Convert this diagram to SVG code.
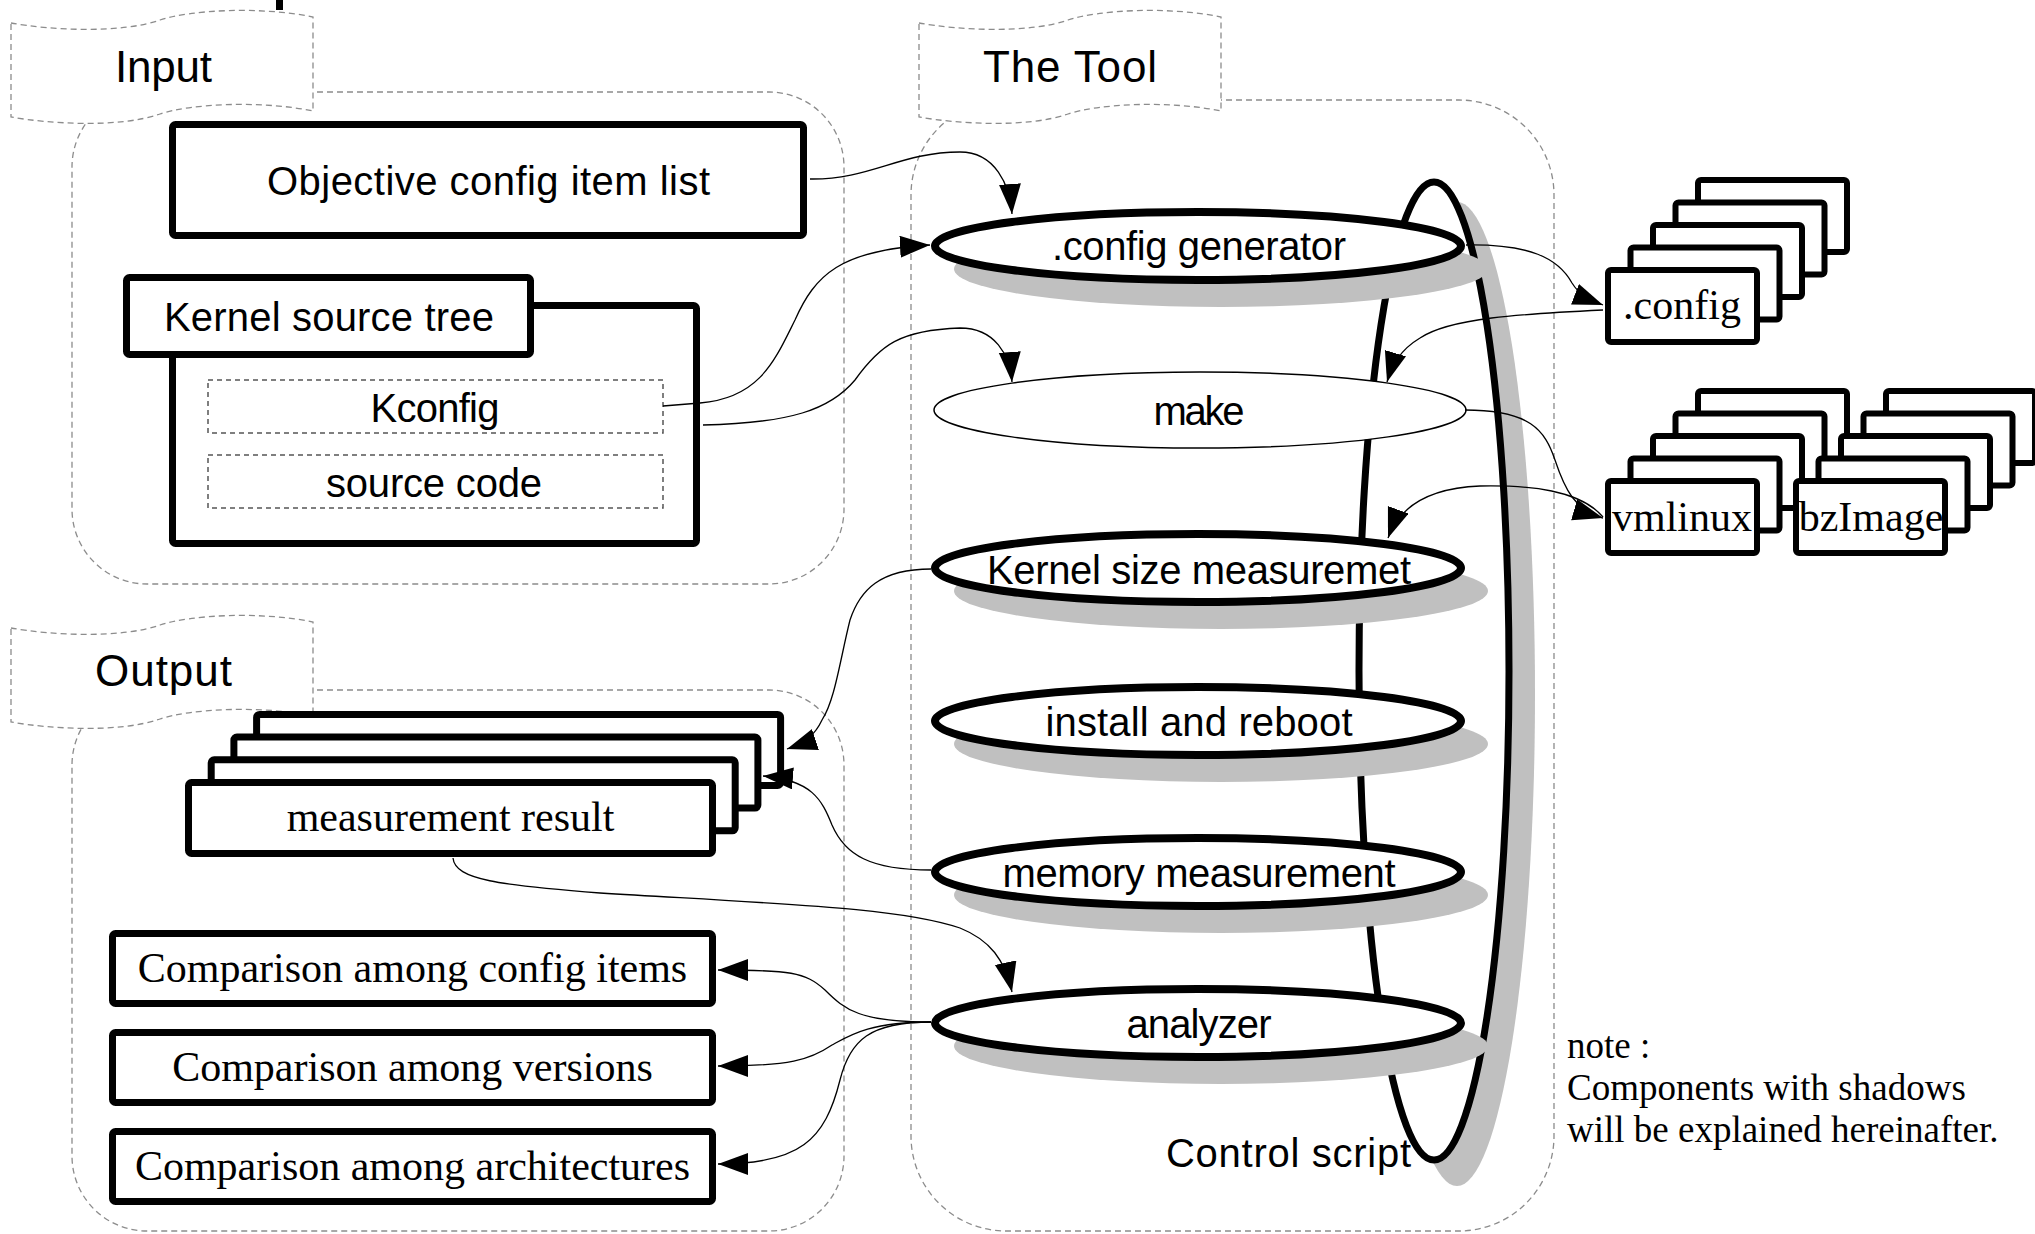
<svg xmlns="http://www.w3.org/2000/svg" width="2035" height="1234" viewBox="0 0 2035 1234">
<defs>
<style>
.cont{fill:none;stroke:#8c8c8c;stroke-width:1.3;stroke-dasharray:6 4}
.tab{fill:#fff;stroke:#8c8c8c;stroke-width:1.3;stroke-dasharray:6 4}
.box{fill:#fff;stroke:#000;stroke-width:7;stroke-linejoin:round}
.sbox{fill:#fff;stroke:#000;stroke-width:6;stroke-linejoin:round}
.dbox{fill:#fff;stroke:#555;stroke-width:1.5;stroke-dasharray:5 4}
.ell{fill:#fff;stroke:#000;stroke-width:8}
.thin{fill:#fff;stroke:#000;stroke-width:1.5}
.shadow{fill:#c0c0c0}
.sans{font-family:"Liberation Sans",Arial,sans-serif;font-size:40px;fill:#000}
.title{font-family:"Liberation Sans",Arial,sans-serif;font-size:44px;fill:#000}
.serif{font-family:"Liberation Serif","Times New Roman",serif;font-size:42px;fill:#000}
.note{font-family:"Liberation Serif","Times New Roman",serif;font-size:37px;fill:#000}
.conn{fill:none;stroke:#000;stroke-width:1.3;marker-end:url(#ah)}
</style>
<marker id="ah" markerUnits="userSpaceOnUse" viewBox="0 0 32 24" markerWidth="32" markerHeight="24" refX="30" refY="11" orient="auto">
<path d="M0,0 L30,11 L0,22 z" fill="#000"/>
</marker>
<path id="tabshape" d="M11,23 C50,30 120,34 160,20 C190,10 260,6 313,17 L313,111 C260,100 190,104 160,114 C120,128 50,124 11,117 Z"/>
</defs>
<rect width="2035" height="1234" fill="#fff"/>
<rect x="276" y="0" width="7" height="10" fill="#000"/>

<g id="containers">
<rect class="cont" x="72" y="92" width="772" height="492" rx="75" ry="75"/>
<rect class="cont" x="911" y="100" width="643" height="1131" rx="95" ry="95"/>
<rect class="cont" x="72" y="690" width="772" height="541" rx="75" ry="75"/>
</g>

<g id="tab-input">
<use href="#tabshape" class="tab"/>
<text class="title" x="163.5" y="82" text-anchor="middle" textLength="97">Input</text>
</g>
<g id="tab-tool">
<use href="#tabshape" class="tab" transform="translate(908,0)"/>
<text class="title" x="1070" y="82" text-anchor="middle" textLength="174">The Tool</text>
</g>
<g id="tab-output">
<use href="#tabshape" class="tab" transform="translate(0,605)"/>
<text class="title" x="163.5" y="686" text-anchor="middle" textLength="137">Output</text>
</g>

<g id="objective">
<rect class="box" x="172.5" y="124.5" width="631" height="111" rx="3"/>
<text class="sans" x="488.5" y="195" text-anchor="middle" textLength="443">Objective config item list</text>
</g>

<g id="kernel-source-tree">
<rect class="box" x="172.5" y="305.5" width="524" height="238" rx="3"/>
<rect class="box" x="126.5" y="277.5" width="404" height="77" rx="3"/>
<text class="sans" x="329" y="331" text-anchor="middle" textLength="330">Kernel source tree</text>
</g>
<g id="kconfig">
<rect class="dbox" x="208" y="380" width="455" height="53"/>
<text class="sans" x="435" y="422" text-anchor="middle" textLength="129">Kconfig</text>
</g>
<g id="source-code">
<rect class="dbox" x="208" y="455" width="455" height="53"/>
<text class="sans" x="434" y="497" text-anchor="middle" textLength="216">source code</text>
</g>

<g id="measurement-result">
<rect class="box" x="256.6" y="714.4" width="524" height="71" rx="3"/>
<rect class="box" x="233.9" y="737.1" width="524" height="71" rx="3"/>
<rect class="box" x="211.2" y="759.8" width="524" height="71" rx="3"/>
<rect class="box" x="188.5" y="782.5" width="524" height="71" rx="3"/>
<text class="serif" x="450.5" y="831" text-anchor="middle">measurement result</text>
</g>

<g id="cmp-config">
<rect class="box" x="112.5" y="933.5" width="600" height="70" rx="3"/>
<text class="serif" x="412.5" y="982" text-anchor="middle">Comparison among config items</text>
</g>
<g id="cmp-versions">
<rect class="box" x="112.5" y="1032.5" width="600" height="70" rx="3"/>
<text class="serif" x="412.5" y="1081" text-anchor="middle">Comparison among versions</text>
</g>
<g id="cmp-arch">
<rect class="box" x="112.5" y="1131.5" width="600" height="70" rx="3"/>
<text class="serif" x="412.5" y="1180" text-anchor="middle">Comparison among architectures</text>
</g>

<g id="control-script">
<ellipse class="shadow" cx="1457" cy="694" rx="78" ry="492"/>
<ellipse cx="1434" cy="671" rx="75" ry="489" fill="#fff" stroke="#000" stroke-width="7"/>
<text class="sans" x="1166" y="1167" textLength="245">Control script</text>
</g>

<g id="config-generator">
<ellipse class="shadow" cx="1221" cy="269" rx="267" ry="38"/>
<ellipse class="ell" cx="1198" cy="246" rx="263" ry="34"/>
<text class="sans" x="1199" y="260" text-anchor="middle" textLength="294">.config generator</text>
</g>
<g id="make">
<ellipse class="thin" cx="1200" cy="410" rx="266" ry="38"/>
<text class="sans" x="1199" y="425" text-anchor="middle" textLength="91">make</text>
</g>
<g id="kernel-size">
<ellipse class="shadow" cx="1221" cy="591" rx="267" ry="38"/>
<ellipse class="ell" cx="1198" cy="568" rx="263" ry="34"/>
<text class="sans" x="1199" y="584" text-anchor="middle" textLength="424">Kernel size measuremet</text>
</g>
<g id="install-reboot">
<ellipse class="shadow" cx="1221" cy="744" rx="267" ry="38"/>
<ellipse class="ell" cx="1198" cy="721" rx="263" ry="34"/>
<text class="sans" x="1199" y="736" text-anchor="middle" textLength="307">install and reboot</text>
</g>
<g id="memory-measurement">
<ellipse class="shadow" cx="1221" cy="895" rx="267" ry="38"/>
<ellipse class="ell" cx="1198" cy="872" rx="263" ry="34"/>
<text class="sans" x="1199" y="887" text-anchor="middle" textLength="393">memory measurement</text>
</g>
<g id="analyzer">
<ellipse class="shadow" cx="1221" cy="1046" rx="267" ry="38"/>
<ellipse class="ell" cx="1198" cy="1023" rx="263" ry="34"/>
<text class="sans" x="1199" y="1038" text-anchor="middle" textLength="145">analyzer</text>
</g>

<g id="config-files">
<rect class="sbox" x="1698" y="180" width="149" height="72" rx="3"/>
<rect class="sbox" x="1675.5" y="202.5" width="149" height="72" rx="3"/>
<rect class="sbox" x="1653" y="225" width="149" height="72" rx="3"/>
<rect class="sbox" x="1630.5" y="247.5" width="149" height="72" rx="3"/>
<rect class="sbox" x="1608" y="270" width="149" height="72" rx="3"/>
<text class="serif" x="1682" y="319" text-anchor="middle">.config</text>
</g>
<g id="vmlinux">
<rect class="sbox" x="1698" y="391" width="149" height="72" rx="3"/>
<rect class="sbox" x="1675.5" y="413.5" width="149" height="72" rx="3"/>
<rect class="sbox" x="1653" y="436" width="149" height="72" rx="3"/>
<rect class="sbox" x="1630.5" y="458.5" width="149" height="72" rx="3"/>
<rect class="sbox" x="1608" y="481" width="149" height="72" rx="3"/>
<text class="serif" x="1682" y="531" text-anchor="middle">vmlinux</text>
</g>
<g id="bzImage">
<rect class="sbox" x="1886" y="391" width="149" height="72" rx="3"/>
<rect class="sbox" x="1863.5" y="413.5" width="149" height="72" rx="3"/>
<rect class="sbox" x="1841" y="436" width="149" height="72" rx="3"/>
<rect class="sbox" x="1818.5" y="458.5" width="149" height="72" rx="3"/>
<rect class="sbox" x="1796" y="481" width="149" height="72" rx="3"/>
<text class="serif" x="1871" y="531" text-anchor="middle">bzImage</text>
</g>

<g id="note">
<text class="note" x="1567" y="1058">note :</text>
<text class="note" x="1567" y="1100">Components with shadows</text>
<text class="note" x="1567" y="1142">will be explained hereinafter.</text>
</g>

<g id="connectors">
<path class="conn" d="M810,179 C870,180 900,152 960,152 C995,152 1010,185 1012,214"/>
<path class="conn" d="M663,406 L700,403 C760,398 775,360 795,320 C815,275 840,250 930,245"/>
<path class="conn" d="M703,425 C790,423 830,410 855,380 C880,345 900,330 960,328 C995,328 1010,355 1012,382"/>
<path class="conn" d="M1466,245 C1530,244 1558,258 1572,283 C1580,296 1590,300 1603,305"/>
<path class="conn" d="M1603,310 C1520,314 1450,318 1420,338 C1400,350 1392,365 1387,382"/>
<path class="conn" d="M1465,410 C1530,410 1545,430 1555,460 C1565,490 1575,510 1603,518"/>
<path class="conn" d="M1603,517 C1580,490 1530,485 1480,486 C1430,488 1400,505 1388,538"/>
<path class="conn" d="M931,569 C880,569 860,590 850,620 C840,660 835,700 822,720 C815,735 805,743 787,749"/>
<path class="conn" d="M931,870 C870,870 845,855 832,825 C822,800 812,780 763,776"/>
<path class="conn" d="M453,858 C455,880 500,885 600,893 C800,905 900,908 960,928 C990,940 1005,960 1012,992"/>
<path class="conn" d="M931,1022 C860,1022 845,1010 825,990 C805,972 790,970 718,970"/>
<path class="conn" d="M931,1022 C870,1022 850,1035 832,1045 C810,1060 790,1066 718,1066"/>
<path class="conn" d="M931,1022 C870,1022 850,1040 840,1080 C825,1140 800,1164 718,1164"/>
</g>
</svg>
